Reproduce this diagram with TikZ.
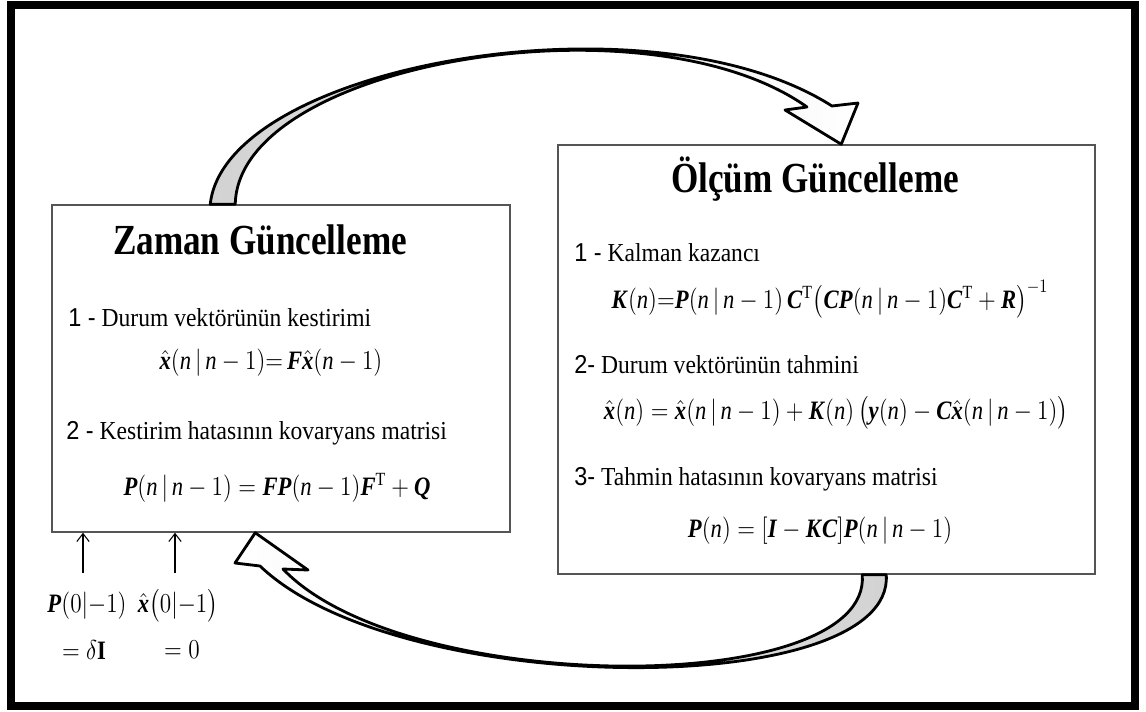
\documentclass[tikz,border=0pt]{standalone}
\usepackage{amsmath}
\usepackage{fontspec}
\setmainfont{Liberation Serif}
\setsansfont{Liberation Sans}
\usetikzlibrary{arrows.meta,calc}
\definecolor{boxline}{RGB}{85,85,85}
\definecolor{bandgray}{RGB}{210,210,210}
\newcommand{\mbi}[1]{\textbf{\textit{#1}}}
\newcommand{\vn}{\textit{n}}

\begin{document}
\begin{tikzpicture}[x=0.02cm, y=-0.02cm,
    box/.style={draw=boxline, line width=0.9pt, inner sep=0pt},
    title/.style={font=\fontsize{20}{24}\selectfont\bfseries, yscale=1.22, inner sep=0pt},
    item/.style={anchor=west, font=\fontsize{13.4}{16}\selectfont, yscale=1.1, inner sep=0pt},
    eq/.style={font=\fontsize{14}{17}\selectfont, xscale=0.92, yscale=1.08, inner sep=0pt},
    band/.style={draw=black, line width=1.6pt, line join=round},
    initarrow/.style={-{Straight Barb[length=4.5pt,width=7pt]}, line width=0.6pt}]
  \useasboundingbox (0,0) rectangle (1146,711);
  \draw[line width=4.5pt] (11,5) rectangle (1135,706);

  % the two steps
  \node[box, minimum width=9.16cm, minimum height=6.54cm] (zaman) at (281,368.5) {};
  \node[box, minimum width=10.74cm, minimum height=8.58cm] (olcum) at (826.5,359.5) {};

  % time update
  \node[title] (zt) at (260,240) {Zaman Güncelleme};
  \node[item] (z1) at (68,318) {{\sffamily 1 -} Durum vektörünün kestirimi};
  \node[eq] (zf1) at (271,363) {$\hat{\mbi{x}}(\vn\,|\,\vn-1){=}\,\mbi{F}\hat{\mbi{x}}(\vn-1)$};
  \node[item] (z2) at (66,433) {{\sffamily 2 -} Kestirim hatasının kovaryans matrisi};
  \node[eq] (zf2) at (277,488) {$\mbi{P}(\vn\,|\,\vn-1)=\mbi{F}\mbi{P}(\vn-1)\mbi{F}^{\mathrm{T}}+\mbi{Q}$};

  % measurement update
  \node[title] (ot) at (815,179) {Ölçüm Güncelleme};
  \node[item] (o1) at (574,253) {{\sffamily 1 -} Kalman kazancı};
  \node[eq] (of1) at (830,299) {$\mbi{K}(\vn){=}\mbi{P}(\vn\,|\,\vn-1)\,\mbi{C}^{\mathrm{T}}\bigl(\mbi{C}\mbi{P}(\vn\,|\,\vn-1)\mbi{C}^{\mathrm{T}}+\mbi{R}\bigr)^{-1}$};
  \node[item] (o2) at (574,365) {{\sffamily 2-} Durum vektörünün tahmini};
  \node[eq] (of2) at (836,413) {$\hat{\mbi{x}}(\vn)=\hat{\mbi{x}}(\vn\,|\,\vn-1)+\mbi{K}(\vn)\,\bigl(\mbi{y}(\vn)-\mbi{C}\hat{\mbi{x}}(\vn\,|\,\vn-1)\bigr)$};
  \node[item] (o3) at (574,479) {{\sffamily 3-} Tahmin hatasının kovaryans matrisi};
  \node[eq] (of3) at (820,531) {$\mbi{P}(\vn)=[\mbi{I}-\mbi{K}\mbi{C}]\mbi{P}(\vn\,|\,\vn-1)$};

  % initial values
  \node[eq] (p0) at (87,606) {$\mbi{P}(0|{-}1)$};
  \node[eq] (x0) at (178,606) {$\hat{\mbi{x}}\bigl(0|{-}1\bigr)$};
  \node[eq] (p0v) at (84,650) {$=\delta\mathbf{I}$};
  \node[eq] (x0v) at (182,650) {$=0$};
  \coordinate (a1) at (83,573);
  \coordinate (a2) at (175,573);
  \draw[initarrow] (a1) -- (a1 |- zaman.south);
  \draw[initarrow] (a2) -- (a2 |- zaman.south);

  % curved arrows
  \coordinate (ta) at ($(zaman.north west)+(159,0)$);
  \coordinate (tb) at ($(zaman.north west)+(184,0)$);
  \coordinate (tip1) at ($(olcum.north west)+(284,0)$);
  \path[band, left color=bandgray, right color=white]
    (ta) .. controls (225,65) and (650,-10) .. (832,106) -- (858,103) -- (tip1)
    -- (785,110) -- (807,107) .. controls (648,-6) and (238,62) .. (tb) -- cycle;

  \coordinate (ba) at ($(olcum.south west)+(329,0)$);
  \coordinate (bb) at ($(olcum.south west)+(305,0)$);
  \coordinate (tip2) at ($(zaman.south west)+(204,0)$);
  \path[band, left color=white, right color=bandgray]
    (ba) .. controls (895,700) and (400,700) .. (260,566) -- (235,563) -- (tip2)
    -- (308,570) -- (283,569) .. controls (405,697) and (872,698) .. (bb) -- cycle;
\end{tikzpicture}
\end{document}
